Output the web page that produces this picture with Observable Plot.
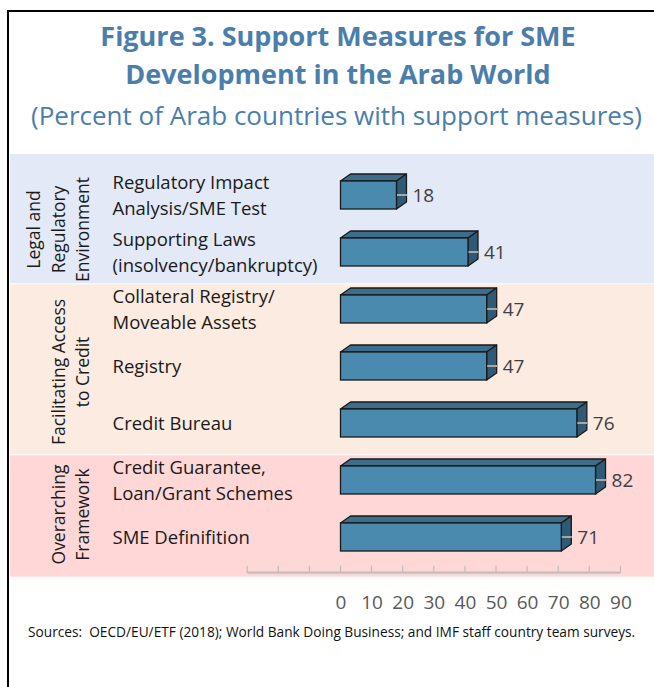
<!DOCTYPE html>
<html><head><meta charset="utf-8">
<script src="https://cdn.jsdelivr.net/npm/d3@7"></script>
<script src="https://cdn.jsdelivr.net/npm/@observablehq/plot@0.6"></script>
<style>
body{margin:0;background:#fff;}
#wrap{position:relative;width:654px;height:687px;overflow:hidden;background:#fff;font-family:"Open Sans",sans-serif;}
#frame{position:absolute;left:7px;top:10px;width:700px;height:700px;border-left:2.5px solid #000;border-top:2.5px solid #000;box-sizing:border-box;}
#title{position:absolute;left:24px;width:628px;top:17px;text-align:center;color:#4a7eab;font-weight:700;font-size:27px;line-height:38px;}
#subtitle{position:absolute;left:20px;width:633px;top:97px;text-align:center;color:#4a7eab;font-size:26px;line-height:36px;white-space:nowrap;}
#chart{position:absolute;left:0;top:150px;}
#caption{position:absolute;left:28px;top:622px;font-size:13.7px;color:#111;white-space:nowrap;}
</style></head>
<body>
<div id="wrap">
  <div id="frame"></div>
  <div id="title">Figure 3. Support Measures for SME<br>Development in the Arab World</div>
  <div id="subtitle">(Percent of Arab countries with support measures)</div>
  <div id="chart"></div>
  <div id="caption">Sources:&nbsp; OECD/EU/ETF (2018); World Bank Doing Business; and IMF staff country team surveys.</div>
</div>
<script>
const groups = ["Legal and\nRegulatory\nEnvironment", "Facilitating Access\nto Credit", "Overarching\nFramework"];
const categories = [
  "Regulatory Impact\nAnalysis/SME Test",
  "Supporting Laws\n(insolvency/bankruptcy)",
  "Collateral Registry/\nMoveable Assets",
  "Registry",
  "Credit Bureau",
  "Credit Guarantee,\nLoan/Grant Schemes",
  "SME Definifition"
];
const categoryGroup = [0, 0, 1, 1, 1, 2, 2];
const values = [18, 41, 47, 47, 76, 82, 71];
const xTickValues = [-30, -20, -10, 0, 10, 20, 30, 40, 50, 60, 70, 80, 90];
const xTickLabels = [0, 10, 20, 30, 40, 50, 60, 70, 80, 90];

const groupColors = ["#e3e9f6", "#fcebe0", "#ffd7d7"];
const frontColor = "#4a8aae", topColor = "#3c6d8a", sideColor = "#2f5a75", edgeColor = "#1a1a1a";
const depthX = 10, depthY = -7;

const data = categories.map((c, i) => ({category: c, value: values[i], group: categoryGroup[i]}));

function bandwidthOf(y) {
  return typeof y.bandwidth === "function" ? y.bandwidth() : 28;
}

function backgrounds(index, scales, vals, dim) {
  const y = scales.y, bw = bandwidthOf(y);
  const g = d3.create("svg:g");
  let top = y(categories[0]) - 27;
  groups.forEach((name, gi) => {
    const cats = categories.filter((c, i) => categoryGroup[i] === gi);
    const last = cats[cats.length - 1];
    const isLast = gi === groups.length - 1;
    const bottom = y(last) + bw + (isLast ? 25.7 : 18.3);
    g.append("rect")
      .attr("x", 10).attr("y", top)
      .attr("width", dim.width - 10)
      .attr("height", bottom - top - (isLast ? 0 : 1))
      .attr("fill", groupColors[gi]);
    const mid = (y(cats[0]) + y(last) + bw) / 2 + 6;
    const lines = name.split("\n");
    const t = g.append("text")
      .attr("transform", `translate(89,${mid}) rotate(-90)`)
      .attr("text-anchor", "middle")
      .attr("fill", "#1a1a1a")
      .attr("font-size", 17.5);
    lines.forEach((ln, li) => {
      t.append("tspan").attr("x", 0).attr("y", -(lines.length - 1 - li) * 24.5).text(ln);
    });
    top = bottom;
  });
  return g.node();
}

function faces(index, scales, vals, dim) {
  const x = scales.x, y = scales.y, bw = bandwidthOf(y);
  const g = d3.create("svg:g");
  data.forEach(d => {
    const x0 = x(0), x1 = x(d.value), yt = y(d.category), yb = yt + bw;
    g.append("path")
      .attr("fill", topColor).attr("stroke", edgeColor).attr("stroke-width", 1.3).attr("stroke-linejoin", "round")
      .attr("d", `M${x0},${yt}L${x0 + depthX},${yt + depthY}L${x1 + depthX},${yt + depthY}L${x1},${yt}Z`);
    g.append("path")
      .attr("fill", sideColor).attr("stroke", edgeColor).attr("stroke-width", 1.3).attr("stroke-linejoin", "round")
      .attr("d", `M${x1},${yt}L${x1 + depthX},${yt + depthY}L${x1 + depthX},${yb + depthY}L${x1},${yb}Z`);
  });
  return g.node();
}

function leaders(index, scales, vals, dim) {
  const x = scales.x, y = scales.y, bw = bandwidthOf(y);
  const g = d3.create("svg:g");
  data.forEach(d => {
    const x1 = x(d.value), yc = y(d.category) + bw / 2;
    g.append("line")
      .attr("x1", x1 + 0.5).attr("x2", x1 + depthX + 0.5)
      .attr("y1", yc).attr("y2", yc)
      .attr("stroke", "#a6a6a6").attr("stroke-width", 2);
  });
  return g.node();
}

function axisLine(index, scales, vals, dim) {
  const x = scales.x;
  const yA = dim.height - dim.marginBottom;
  const g = d3.create("svg:g").attr("stroke", "#bfbfbf");
  g.append("line")
    .attr("x1", x(xTickValues[0])).attr("x2", x(xTickValues[xTickValues.length - 1]))
    .attr("y1", yA).attr("y2", yA).attr("stroke-width", 2.2);
  xTickValues.forEach(v => {
    g.append("line").attr("x1", x(v)).attr("x2", x(v)).attr("y1", yA - 7).attr("y2", yA).attr("stroke-width", 1.3);
  });
  return g.node();
}

const chart = Plot.plot({
  width: 654,
  height: 460,
  marginLeft: 340.5,
  marginRight: 33.6,
  marginTop: 0,
  marginBottom: 37.3,
  style: {fontFamily: "Open Sans", fontSize: "19px", color: "#595959", background: "transparent", overflow: "visible"},
  x: {domain: [0, 90], range: [340.5, 620.4], ticks: xTickLabels, tickSize: 0, tickPadding: 22, label: null},
  y: {type: "band", domain: categories, range: [29.3, 403.3], paddingInner: 0.515, paddingOuter: 0, axis: null},
  marks: [
    backgrounds,
    axisLine,
    faces,
    Plot.barX(data, {x: "value", y: "category", fill: frontColor, stroke: edgeColor, strokeWidth: 1.3}),
    leaders,
    Plot.text(data, {x: "value", y: "category", text: d => String(d.value), dx: 15.5, dy: 0, textAnchor: "start", fill: "#404040", fontSize: 19}),
    Plot.text(data, {y: "category", text: "category", frameAnchor: "left", dx: -228.5, dy: -1.5, textAnchor: "start", lineHeight: 1.4, fontSize: 18.5, fill: "#1a1a1a"})
  ]
});
document.getElementById("chart").appendChild(chart);
</script>
</body></html>
